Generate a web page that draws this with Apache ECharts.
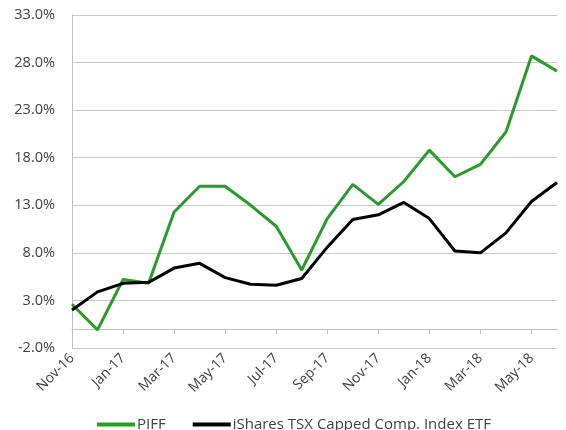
<!DOCTYPE html>
<html>
<head>
<meta charset="utf-8">
<script src="https://cdn.jsdelivr.net/npm/echarts@6/dist/echarts.min.js"></script>
<style>html,body{margin:0;padding:0;background:#fff}#c{width:566px;height:430px}</style>
</head>
<body>
<div id="c"></div>
<script>
const categories = ['Nov-16','Dec-16','Jan-17','Feb-17','Mar-17','Apr-17','May-17','Jun-17','Jul-17','Aug-17','Sep-17','Oct-17','Nov-17','Dec-17','Jan-18','Feb-18','Mar-18','Apr-18','May-18','Jun-18'];
const piff = [2.6, -0.1, 5.2, 4.8, 12.3, 15.0, 15.0, 13.0, 10.8, 6.2, 11.6, 15.2, 13.1, 15.5, 18.8, 16.0, 17.3, 20.7, 28.7, 27.1];
const ishares = [2.0, 3.9, 4.8, 4.9, 6.4, 6.9, 5.4, 4.7, 4.6, 5.3, 8.6, 11.5, 12.0, 13.3, 11.6, 8.2, 8.0, 10.1, 13.4, 15.4];
const seriesNames = ['PIFF', 'iShares TSX Capped Comp. Index ETF'];

const font = 'Open Sans';
const chart = echarts.init(document.getElementById('c'));
chart.setOption({
  animation: false,
  textStyle: { fontFamily: font },
  grid: { left: 72, right: 9, top: 15, bottom: 82, containLabel: false },
  legend: {
    bottom: -7, left: 92,
    itemWidth: 38, itemHeight: 4, itemGap: 27,
    icon: 'rect',
    textStyle: { color: '#404040', fontSize: 15, fontFamily: font, padding: [0, 0, 0, -3] },
    data: seriesNames
  },
  xAxis: {
    type: 'category', data: categories, boundaryGap: false,
    axisLine: { lineStyle: { color: '#bfbfbf', width: 1 } },
    axisTick: { interval: 1, length: 5, lineStyle: { color: '#bfbfbf' } },
    axisLabel: { interval: 1, rotate: 45, color: '#404040', fontSize: 14, margin: 8, fontFamily: font }
  },
  yAxis: {
    type: 'value', min: -2, max: 33, interval: 5,
    axisLine: { show: true, lineStyle: { color: '#bfbfbf' } },
    axisTick: { show: false },
    splitLine: { lineStyle: { color: '#c8c8c8', width: 1 } },
    axisLabel: { color: '#404040', fontSize: 14.5, margin: 17, fontFamily: font, formatter: v => v.toFixed(1) + '%' }
  },
  series: [
    { name: seriesNames[0], type: 'line', data: piff, symbol: 'none', lineStyle: { color: '#2a9a2a', width: 3 }, itemStyle: { color: '#2a9a2a' } },
    { name: seriesNames[1], type: 'line', data: ishares, symbol: 'none', lineStyle: { color: '#000000', width: 3 }, itemStyle: { color: '#000000' } }
  ]
});
</script>
</body>
</html>
